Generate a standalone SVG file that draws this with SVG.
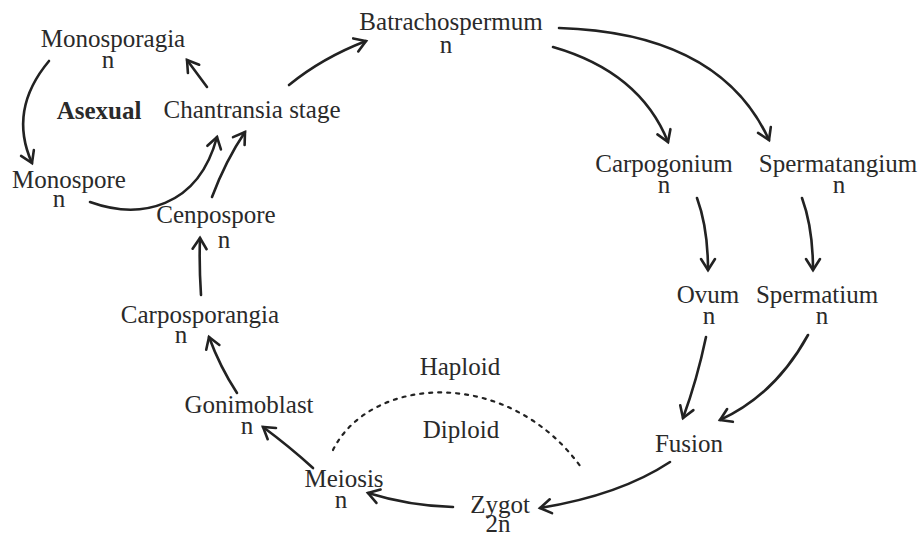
<svg xmlns="http://www.w3.org/2000/svg" width="919" height="537" viewBox="0 0 919 537">
<style>
text{font-family:"Liberation Serif","Times New Roman",serif;font-size:25px;fill:#2a2a2a;text-anchor:middle}
.b{font-weight:bold}
.c{fill:none;stroke:#222;stroke-width:2.6;stroke-linecap:round}
.d{fill:none;stroke:#222;stroke-width:2.2;stroke-dasharray:3 6;stroke-linecap:round}
</style>
<defs>
<marker id="ah" markerUnits="userSpaceOnUse" markerWidth="30" markerHeight="30" refX="0" refY="0" viewBox="-15 -15 30 30" orient="auto" overflow="visible">
<path d="M-11,-7 L0,0 L-11,7" fill="none" stroke="#222" stroke-width="2.6" stroke-linecap="round" stroke-linejoin="miter"/>
</marker>
</defs>
<rect width="919" height="537" fill="#fff"/>
<g id="connectors">
<path class="c" marker-end="url(#ah)" d="M49,61 Q8,110 32,163"/>
<path class="c" marker-end="url(#ah)" d="M207,87 L187,60"/>
<path class="c" marker-end="url(#ah)" d="M289,85 Q322,58 366,41"/>
<path class="c" marker-end="url(#ah)" d="M90,202 C140,220 198,208 217,137"/>
<path class="c" marker-end="url(#ah)" d="M212,197 Q226,160 245,132"/>
<path class="c" marker-end="url(#ah)" d="M201,295 Q199,265 200,238"/>
<path class="c" marker-end="url(#ah)" d="M237,393 Q220,367 209,337"/>
<path class="c" marker-end="url(#ah)" d="M313,468 Q290,447 263,427"/>
<path class="c" marker-end="url(#ah)" d="M453,507 Q410,506 368,493"/>
<path class="c" marker-end="url(#ah)" d="M553,47 Q640,72 668,142"/>
<path class="c" marker-end="url(#ah)" d="M559,28 Q720,33 769,140"/>
<path class="c" marker-end="url(#ah)" d="M697,198 Q708,228 708,270"/>
<path class="c" marker-end="url(#ah)" d="M802,198 Q813,228 813,270"/>
<path class="c" marker-end="url(#ah)" d="M706,337 Q697,380 683,418"/>
<path class="c" marker-end="url(#ah)" d="M808,335 Q775,395 720,420"/>
<path class="c" marker-end="url(#ah)" d="M670,462 Q620,495 540,508"/>
<path class="d" d="M333,450 C370,375 510,365 583,470"/>
</g>
<g id="monosporagia"><text x="113" y="47">Monosporagia</text><text x="108" y="68">n</text></g>
<g id="asexual"><text class="b" x="99" y="119">Asexual</text></g>
<g id="chantransia"><text x="252" y="118">Chantransia stage</text></g>
<g id="monospore"><text x="69" y="188">Monospore</text><text x="59" y="207">n</text></g>
<g id="cenpospore"><text x="216" y="223">Cenpospore</text><text x="224" y="248">n</text></g>
<g id="carposporangia"><text x="200" y="323">Carposporangia</text><text x="181" y="343">n</text></g>
<g id="gonimoblast"><text x="249" y="413">Gonimoblast</text><text x="247" y="434">n</text></g>
<g id="meiosis"><text x="344" y="487">Meiosis</text><text x="341" y="508">n</text></g>
<g id="zygot"><text x="500" y="513">Zygot</text><text x="498" y="532">2n</text></g>
<g id="fusion"><text x="689" y="452">Fusion</text></g>
<g id="haploid"><text x="460" y="375">Haploid</text></g>
<g id="diploid"><text x="461" y="438">Diploid</text></g>
<g id="batrachospermum"><text x="451" y="30">Batrachospermum</text><text x="446" y="53">n</text></g>
<g id="carpogonium"><text x="664" y="172">Carpogonium</text><text x="664" y="193">n</text></g>
<g id="spermatangium"><text x="838" y="172">Spermatangium</text><text x="839" y="193">n</text></g>
<g id="ovum"><text x="708" y="303">Ovum</text><text x="709" y="324">n</text></g>
<g id="spermatium"><text x="817" y="303">Spermatium</text><text x="822" y="324">n</text></g>
</svg>
